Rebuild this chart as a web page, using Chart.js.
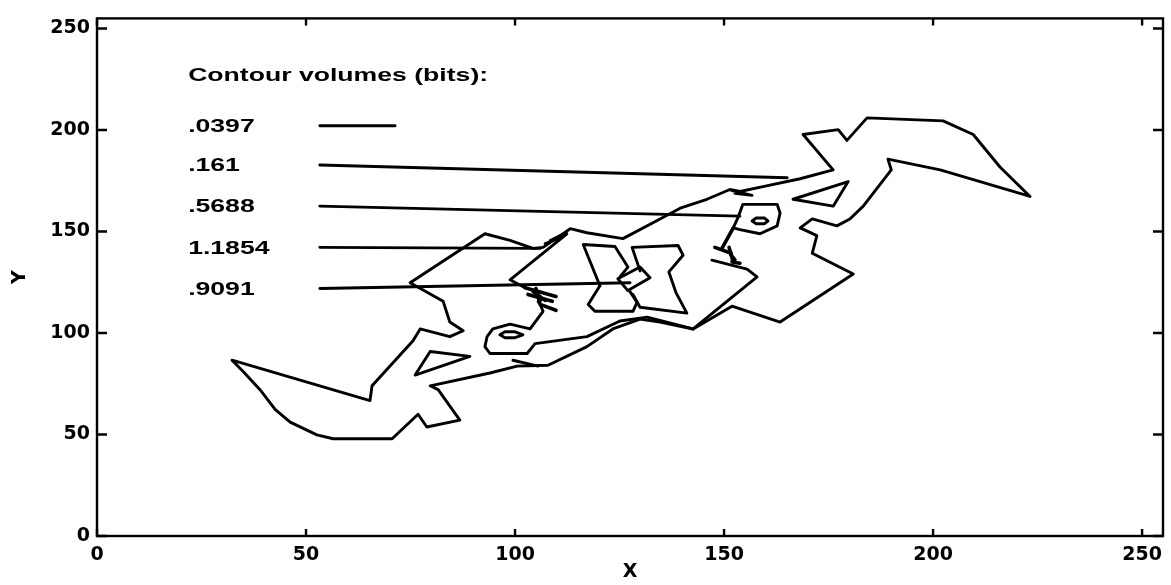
<!DOCTYPE html>
<html>
<head>
<meta charset="utf-8">
<title>Contour volumes</title>
<script src="https://cdn.jsdelivr.net/npm/chart.js@4.4.0/dist/chart.umd.min.js"></script>
<style>
  html, body { margin: 0; padding: 0; background: #fff; }
  #wrap { width: 1171px; height: 585px; position: relative; }
</style>
</head>
<body>
<div id="wrap"><canvas id="contourChart"></canvas></div>
<script>
// tick labels
var xTicks = [0, 50, 100, 150, 200, 250];
var yTicks = [0, 50, 100, 150, 200, 250];

// legend entries and their sample lines (lines run into the plot as in the original)
var levelLabels = ['.0397', '.161', '.5688', '1.1854', '.9091'];
var legendLines = [
  [[53.3, 202.1], [71.3, 202.1]],
  [[53.3, 182.8], [165.1, 176.5]],
  [[53.3, 162.5], [153.8, 157.6]],
  [[53.3, 142.2], [106.0, 141.7]],
  [[53.3, 121.9], [127.5, 124.8]]
];

// contour traces (x, y)
var outerContour = [[32.3,86.6],[34.9,81.2],[39.0,72.1],[42.6,62.4],[46.2,56.1],[52.6,49.8],[56.5,47.9],[65.3,47.9],[70.6,47.9],[76.8,60.0],[78.9,53.7],[86.8,57.1],[81.6,72.1],[79.7,74.0],[94.0,80.3],[100.5,83.7],[107.9,84.1],[117.2,93.3],[123.4,102.0],[129.9,106.9],[134.7,105.4],[142.6,102.0],[151.9,113.2],[163.4,105.4],[180.9,129.1],[171.1,139.3],[172.2,148.0],[168.2,151.8],[171.1,156.2],[177.0,152.8],[180.1,156.2],[183.3,162.5],[190.0,180.4],[189.2,185.7],[201.7,180.4],[223.2,167.3],[216.0,181.8],[209.6,197.8],[202.4,204.5],[184.2,206.0],[179.4,194.9],[177.3,200.2],[168.9,197.8],[176.1,180.4],[168.2,176.0],[159.3,172.1],[153.8,169.7],[151.4,170.7],[145.9,165.9],[139.5,161.5],[133.0,154.3],[125.8,146.5],[117.2,149.4],[113.2,151.4],[110.8,148.0],[106.7,142.2],[104.3,141.7],[98.8,145.6],[92.8,148.9],[74.9,124.8],[82.8,115.6],[84.4,105.4],[87.6,101.1],[84.4,98.2],[77.3,102.0],[75.6,96.2],[65.8,74.0],[65.3,66.7],[32.3,86.6]];
var lowerTriangle = [[79.7,90.9],[89.2,88.5],[76.1,79.3],[79.7,90.9]];
var lowerSpur = [[99.5,86.6],[105.5,83.7]];
var lowerBlob = [[106.0,114.1],[106.7,110.7],[103.6,102.0],[98.8,104.4],[94.7,102.0],[93.3,98.2],[92.8,93.3],[94.0,89.9],[102.9,89.9],[104.8,94.8],[117.2,98.2],[125.1,105.9],[131.6,107.8],[142.6,102.0]];
var lowerEye = [[96.4,99.1],[97.6,100.6],[100.0,100.6],[101.9,99.1],[100.0,97.7],[97.6,97.7],[96.4,99.1]];
var forkLeft = [
  [[102.4,122.3],[109.8,118.0]],
  [[103.1,119.0],[108.9,115.6]],
  [[105.0,121.9],[106.0,114.1],[109.8,111.2]],
  [[104.3,120.4],[107.2,116.1]],
  [[105.2,119.5],[106.4,116.8],[105.6,115.4]]
];
var leftWedge = [[112.4,148.9],[98.8,126.2],[102.4,122.3]];
var squiggle = [[107.2,144.1],[111.2,147.0],[108.4,145.6],[112.2,149.4]];
var hourglassLeftTop = [[120.3,123.3],[116.3,143.6],[123.9,142.6],[127.0,132.5],[125.1,127.7]];
var hourglassLeftBottom = [[120.3,123.3],[117.5,114.1],[119.1,110.7],[128.2,110.7],[129.2,115.1],[127.5,120.4]];
var neckBox = [[124.6,126.7],[129.9,132.5],[132.3,127.2],[127.0,120.9],[124.6,126.7]];
var hourglassRight = [[129.9,130.6],[128.0,142.2],[139.0,143.1],[140.2,138.3],[136.8,130.1],[138.5,119.9],[141.1,109.8],[129.9,112.7],[128.2,119.0]];
var rightStem = [[142.6,102.0],[157.9,127.7],[155.5,131.5],[147.1,135.9]];
var forkRight = [
  [[147.8,142.2],[151.7,139.3]],
  [[151.2,142.2],[152.2,134.9],[153.8,134.4]],
  [[149.5,141.7],[152.2,151.8]],
  [[151.6,138.6],[152.6,136.0],[151.9,135.2]]
];
var rightBlob = [[152.2,151.8],[153.8,150.9],[158.6,148.9],[162.7,152.8],[163.4,159.1],[162.7,163.4],[154.5,163.4],[153.3,156.7],[152.2,151.8]];
var rightEye = [[156.7,155.2],[157.7,156.7],[159.6,156.7],[160.5,155.2],[159.6,153.8],[157.7,153.8],[156.7,155.2]];
var rightTriangle = [[166.5,165.9],[179.7,174.6],[176.1,162.5],[166.5,165.9]];
var upperFlick = [[151.9,170.2],[156.7,167.8],[152.6,168.8]];

var traces = [].concat(
  legendLines,
  [outerContour, lowerTriangle, lowerSpur, lowerBlob, lowerEye],
  [leftWedge, squiggle, hourglassLeftTop, hourglassLeftBottom, neckBox, hourglassRight, rightStem],
  [rightBlob, rightEye, rightTriangle, upperFlick]
);
var forks = forkLeft.concat(forkRight);

function makeDataset(pts, width) {
  return {
    data: pts.map(function(p) { return {x: p[0], y: p[1]}; }),
    showLine: true,
    borderColor: '#000',
    borderWidth: width,
    borderJoinStyle: 'round',
    borderCapStyle: 'round',
    pointRadius: 0,
    fill: false,
    tension: 0
  };
}

var datasets = traces.map(function(pts) { return makeDataset(pts, 2.9); })
  .concat(forks.map(function(pts) { return makeDataset(pts, 3.6); }));

function stretchText(ctx, text, px, py) {
  ctx.save();
  ctx.translate(px, py);
  ctx.scale(1.4, 1);
  ctx.fillText(text, 0, 0);
  ctx.restore();
}

// box, inward ticks on all four sides, legend text
var framePlugin = {
  id: 'frame',
  afterDatasetsDraw: function(chart) {
    var ctx = chart.ctx, a = chart.chartArea;
    var xs = chart.scales.x, ys = chart.scales.y;
    ctx.save();
    ctx.strokeStyle = '#000';
    ctx.lineWidth = 2.4;
    ctx.strokeRect(a.left, a.top, a.right - a.left, a.bottom - a.top);
    ctx.beginPath();
    xTicks.forEach(function(v) {
      var px = xs.getPixelForValue(v);
      ctx.moveTo(px, a.bottom); ctx.lineTo(px, a.bottom - 7);
      ctx.moveTo(px, a.top); ctx.lineTo(px, a.top + 7);
    });
    yTicks.forEach(function(v) {
      var py = ys.getPixelForValue(v);
      ctx.moveTo(a.left, py); ctx.lineTo(a.left + 10, py);
      ctx.moveTo(a.right, py); ctx.lineTo(a.right - 10, py);
    });
    ctx.stroke();

    ctx.fillStyle = '#000';
    ctx.font = 'bold 19px "Liberation Sans"';
    ctx.textBaseline = 'middle';
    var lx = xs.getPixelForValue(21.8);
    stretchText(ctx, 'Contour volumes (bits):', lx, ys.getPixelForValue(226.8));
    levelLabels.forEach(function(t, i) {
      stretchText(ctx, t, lx, ys.getPixelForValue(legendLines[i][0][1]) + 1);
    });
    ctx.restore();
  }
};

var tickFont = {family: 'DejaVu Sans', weight: 'bold', size: 19};
var titleFont = {family: 'DejaVu Sans', weight: 'bold', size: 19};

var contourChart = new Chart(document.getElementById('contourChart'), {
  type: 'scatter',
  data: {datasets: datasets},
  options: {
    responsive: true,
    maintainAspectRatio: false,
    animation: false,
    layout: {padding: {top: 9, right: 8, left: 0, bottom: 0}},
    plugins: {legend: {display: false}, tooltip: {enabled: false}},
    scales: {
      x: {
        type: 'linear',
        min: 0, max: 255,
        grid: {display: false, drawTicks: false},
        border: {display: false},
        afterBuildTicks: function(axis) { axis.ticks = xTicks.map(function(v) { return {value: v}; }); },
        afterFit: function(axis) { axis.height = 49; },
        ticks: {color: '#000', font: tickFont, padding: 8, maxRotation: 0, autoSkip: false},
        title: {display: true, text: 'X', color: '#000', font: titleFont, padding: {top: 0, bottom: 2}}
      },
      y: {
        type: 'linear',
        min: 0, max: 255,
        grid: {display: false, drawTicks: false},
        border: {display: false},
        afterBuildTicks: function(axis) { axis.ticks = yTicks.map(function(v) { return {value: v}; }); },
        afterFit: function(axis) { axis.width = 97; },
        ticks: {color: '#000', font: tickFont, padding: 7, autoSkip: false},
        title: {display: true, text: 'Y', color: '#000', font: titleFont, padding: {top: 9, bottom: 0}}
      }
    }
  },
  plugins: [framePlugin]
});
</script>
</body>
</html>
